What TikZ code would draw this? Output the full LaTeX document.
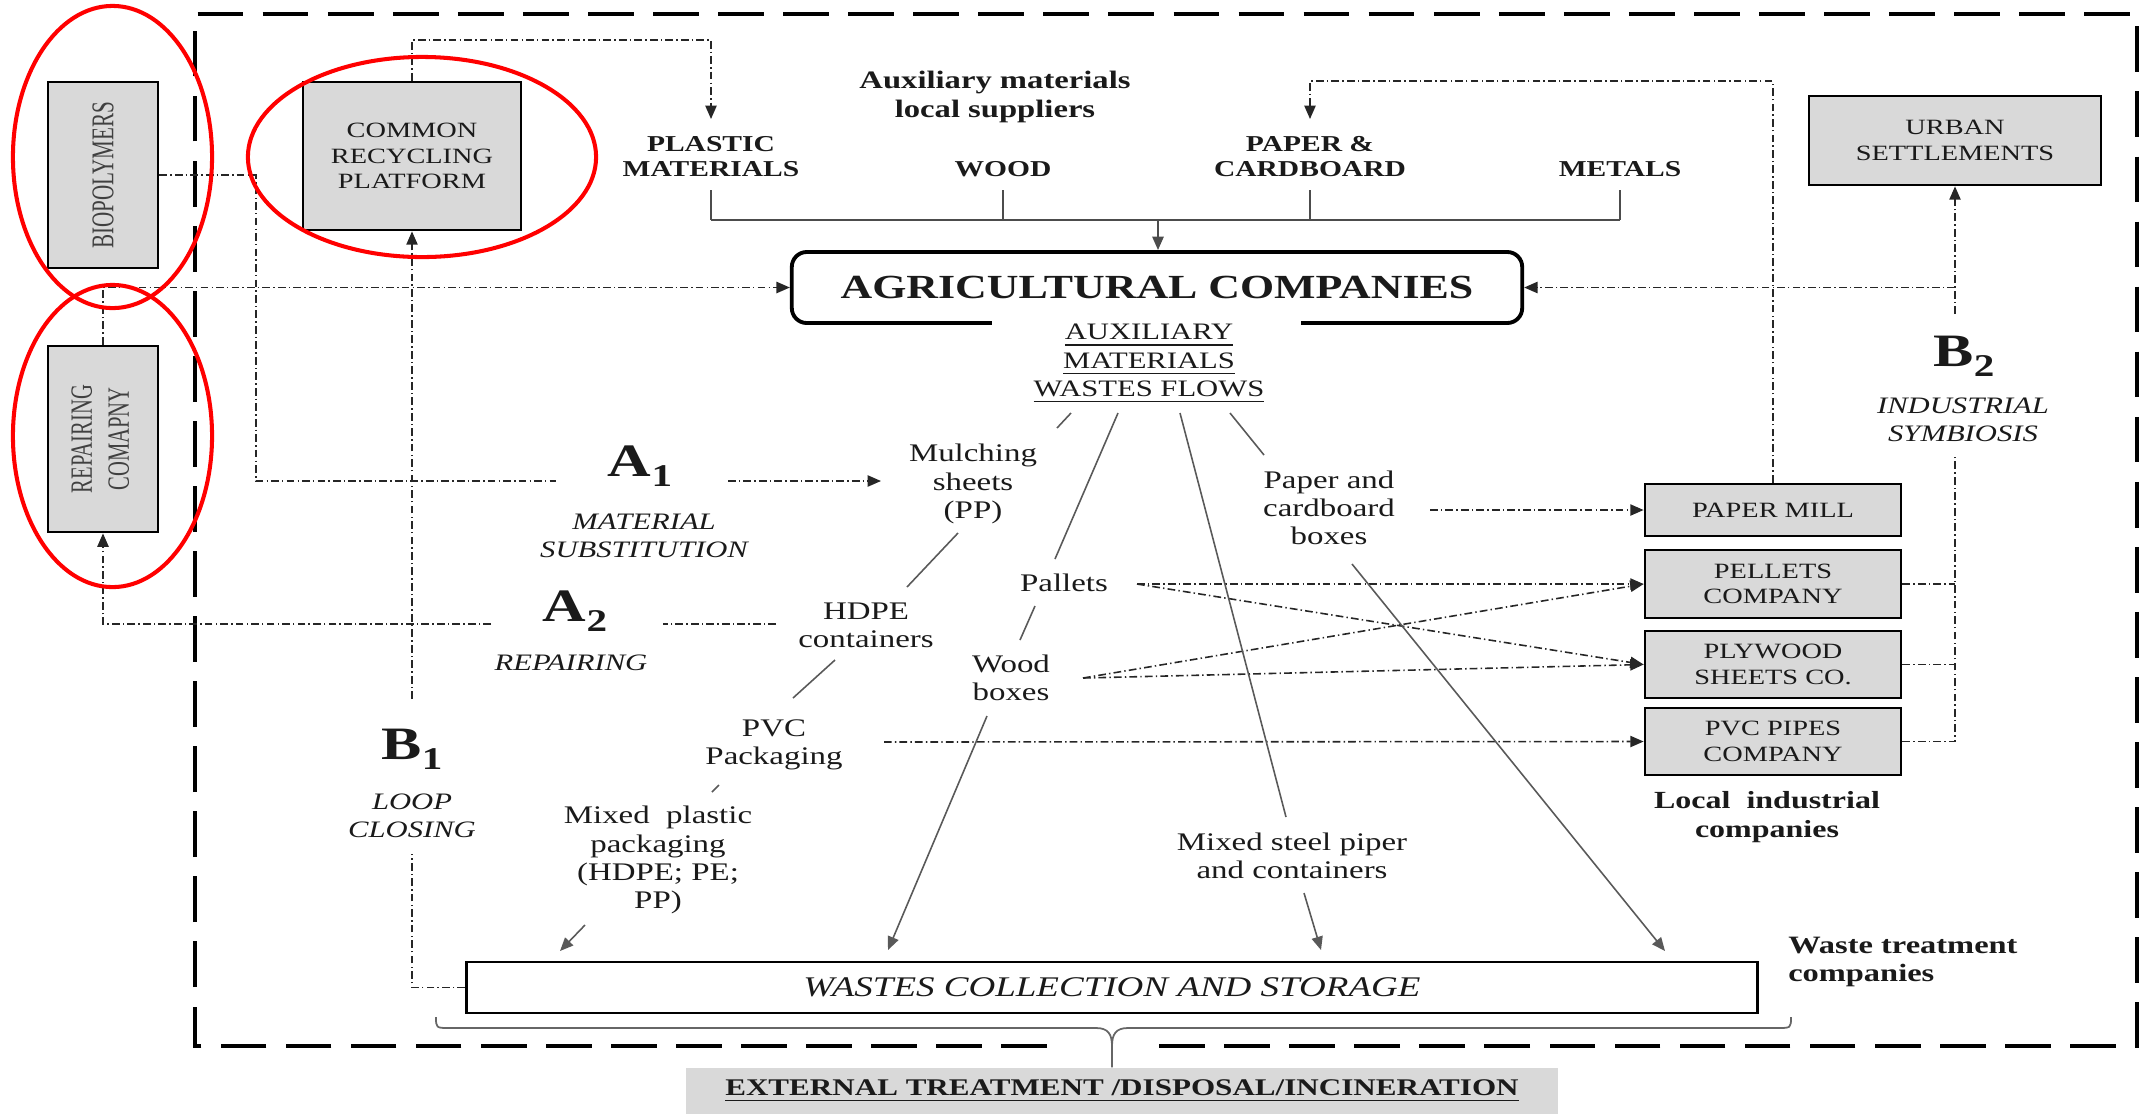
\documentclass[tikz,border=0pt]{standalone}
\usepackage{fontspec}
\setmainfont{Liberation Serif}[FakeStretch=1.3]
\newfontfamily\rotfont{Liberation Serif}
\usetikzlibrary{arrows.meta}
\definecolor{boxgray}{HTML}{D9D9D9}
\definecolor{txt}{HTML}{1A1A1A}
\newcommand{\fsz}[2]{\fontsize{#1}{#2}\selectfont}
\newcommand{\sbs}[1]{\raisebox{-0.45ex}{\fsz{9pt}{9pt}#1}}
\newcommand{\undl}[1]{\underline{#1}}
\tikzset{
  flow/.style={draw=black!85, line width=0.45pt, dash pattern=on 2.2pt off 0.9pt on 0.4pt off 0.9pt},
  arr/.style={-{Triangle[length=3.8pt,width=3.2pt]}},
  sol/.style={draw=black!65, line width=0.45pt},
  bus/.style={draw=black!70, line width=0.5pt},
  gbox/.style={draw=black, line width=0.75pt, fill=boxgray, inner sep=0pt, align=center, text=txt},
  lab/.style={align=center, inner sep=3pt, text=txt},
  regtxt/.style={lab, font=\fsz{7.2pt}{8pt}},
  capsb/.style={lab, font=\bfseries\fsz{6.46pt}{7.1pt}},
  itl/.style={lab, font=\itshape\fsz{6.7pt}{8pt}},
  big/.style={lab, font=\bfseries\fsz{13.2pt}{14pt}},
  boxcaps/.style={font=\fsz{6.2pt}{7.25pt}},
  oval/.style={draw=red, line width=1.15pt}
}
\begin{document}
\begin{tikzpicture}[x=0.01cm,y=-0.01cm]
\useasboundingbox (0,0) rectangle (2154,1114);

% outer dashed frame (gap where the brace passes)
\draw[line width=1.1pt, dash pattern=on 13pt off 5.5pt] (1047,1046) -| (195,14) -| (2137,1046) -- (1159,1046);

% ---------- boxes ----------
\node[gbox, minimum width=1.1cm, minimum height=1.86cm] (bio) at (103,175)
  {\rotatebox{90}{\scalebox{1}[1.5]{\rotfont\fsz{6pt}{7pt}\color{black!75}BIOPOLYMERS}}};
\node[gbox, minimum width=1.1cm, minimum height=1.86cm] (rep) at (103,439)
  {\rotatebox{90}{\scalebox{1}[1.5]{\rotfont\fsz{5.86pt}{7pt}\color{black!75}\begin{tabular}{@{}c@{}}REPAIRING\\COMAPNY\end{tabular}}}};
\node[gbox, boxcaps, minimum width=2.18cm, minimum height=1.48cm] (crp) at (412,156) {COMMON\\RECYCLING\\PLATFORM};
\node[gbox, boxcaps, minimum width=2.92cm, minimum height=0.89cm] (urban) at (1955,140.5) {URBAN\\SETTLEMENTS};

\node[gbox, boxcaps, minimum width=2.56cm, minimum height=0.52cm] (pm) at (1773,510) {PAPER MILL};
\node[gbox, boxcaps, minimum width=2.56cm, minimum height=0.68cm] (pel) at (1773,584) {PELLETS\\COMPANY};
\node[gbox, boxcaps, minimum width=2.56cm, minimum height=0.67cm] (ply) at (1773,664.5) {PLYWOOD\\SHEETS CO.};
\node[gbox, boxcaps, minimum width=2.56cm, minimum height=0.67cm] (pvcp) at (1773,741.5) {PVC PIPES\\COMPANY};

\node[draw=black, line width=1.1pt, rounded corners=1.5mm, minimum width=7.3cm, minimum height=0.71cm,
      font=\bfseries\fsz{9.6pt}{10pt}, text=txt] (agri) at (1157,287.5) {AGRICULTURAL COMPANIES};
\fill[white] (992,318) rectangle (1301,330);

\node[draw=black, line width=0.8pt, minimum width=12.9cm, minimum height=0.51cm, inner sep=0pt,
      font=\itshape\fsz{8.1pt}{9pt}, text=txt] (waste) at (1112,987.5) {WASTES COLLECTION AND STORAGE};
\node[fill=boxgray, minimum width=8.72cm, minimum height=0.46cm, inner sep=0pt,
      font=\bfseries\fsz{6.8pt}{8pt}, text=txt] (ext) at (1122,1091) {\undl{EXTERNAL TREATMENT /DISPOSAL/INCINERATION}};

% ---------- labels ----------
\node[lab, font=\bfseries\fsz{7.14pt}{8pt}] (sup) at (995,97) {Auxiliary materials\\local suppliers};
\node[capsb] (plastic) at (711,157) {PLASTIC\\MATERIALS};
\node[capsb] (wood) at (1003,169) {WOOD};
\node[capsb] (paper) at (1310,157) {PAPER \&\\CARDBOARD};
\node[capsb] (metals) at (1620,169) {METALS};

\node[lab, font=\fsz{6.7pt}{8pt}] (auxw) at (1149,364) {\undl{AUXILIARY}\\\undl{MATERIALS}\\\undl{WASTES FLOWS}};

\node[regtxt] (mulch) at (973,484) {Mulching\\sheets\\(PP)};
\node[regtxt] (paperb) at (1329,508) {Paper and\\cardboard\\boxes};
\node[regtxt] (pallets) at (1064,583) {Pallets};
\node[regtxt] (hdpe) at (866,625) {HDPE\\containers};
\node[regtxt] (woodb) at (1011,678) {Wood\\boxes};
\node[regtxt] (pvc) at (774,745) {PVC\\Packaging};
\node[regtxt] (mixp) at (658,860) {Mixed\ \ plastic\\packaging\\(HDPE; PE;\\PP)};
\node[regtxt] (mixs) at (1292,856) {Mixed steel piper\\and containers};

\node[lab, font=\bfseries\fsz{7pt}{8.2pt}] (local) at (1767,817) {Local\ \ industrial\\companies};
\node[lab, anchor=west, align=left, font=\bfseries\fsz{7.1pt}{8.2pt}] (wtc) at (1777,962) {Waste treatment\\companies};

\node[big] (A1) at (640,466) {A\sbs{1}};
\node[itl] (matsub) at (644,536) {MATERIAL\\SUBSTITUTION};
\node[big] (A2) at (575,611) {A\sbs{2}};
\node[itl] (repairing) at (571,663) {REPAIRING};
\node[big] (B1) at (412,749) {B\sbs{1}};
\node[itl] (loop) at (412,816) {LOOP\\CLOSING};
\node[big] (B2) at (1964,356) {B\sbs{2}};
\node[itl] (indsym) at (1963,420) {INDUSTRIAL\\SYMBIOSIS};

% ---------- supplier bus ----------
\coordinate (busM) at (1158,220);
\coordinate (tickY) at (0,190);
\coordinate (tipY) at (0,119);
\draw[bus] (plastic |- tickY) -- (plastic |- busM);
\draw[bus] (wood |- tickY) -- (wood |- busM);
\draw[bus] (paper |- tickY) -- (paper |- busM);
\draw[bus] (metals |- tickY) -- (metals |- busM);
\draw[bus] (plastic |- busM) -- (metals |- busM);
\draw[bus, arr] (busM) -- (agri.north -| busM);

% ---------- dash-dot flows ----------
\coordinate (a1l) at (556,481);
\coordinate (a1r) at (728,481);
\coordinate (mulchin) at (881,481);
\draw[flow] (bio.east) -| (256,481) -- (a1l);
\draw[flow, arr] (a1r) -- (mulchin);

\draw[flow, arr] (rep.north) |- (agri.west);

\draw[flow, arr] (crp.north) -- (412,40) -| (plastic |- tipY);

\coordinate (b1a) at (412,854);
\coordinate (b1b) at (412,699);
\draw[flow] (waste.west) -| (b1a);
\draw[flow, arr] (b1b) -- (crp.south);

\coordinate (a2r1) at (776,624);
\coordinate (a2r2) at (663,624);
\coordinate (a2l) at (491,624);
\draw[flow] (a2r1) -- (a2r2);
\draw[flow, arr] (a2l) -| (rep.south);

\coordinate (pmtop) at (1773,81);
\draw[flow, arr] (pm.north) -- (pmtop) -| (paper |- tipY);

\coordinate (b2up) at (1955,314);
\coordinate (b2low) at (1955,457);
\draw[flow, arr] (b2up) -- (urban.south);
\draw[flow, arr] (agri.east -| urban.south) -- (agri.east);
\draw[flow] (pvcp.east) -| (b2low);
\draw[flow] (pel.east) -- (pel.east -| b2low);
\draw[flow] (ply.east) -- (ply.east -| b2low);

\coordinate (pbr) at (1430,510);
\coordinate (palr) at (1137,584);
\coordinate (woodr) at (1083,678);
\coordinate (pvcr) at (884,742);
\draw[flow, arr] (pbr) -- (pm.west);
\draw[flow, arr] (palr) -- (pel.west);
\draw[flow, arr] (palr) -- (ply.west);
\draw[flow, arr] (woodr) -- (pel.west);
\draw[flow, arr] (woodr) -- (ply.west);
\draw[flow, arr] (pvcr) -- (pvcp.west);

% ---------- solid waste flow lines ----------
\coordinate (s1a) at (1071,413); \coordinate (s1b) at (1057,428);
\coordinate (s2a) at (958,533);  \coordinate (s2b) at (907,587);
\coordinate (s3a) at (835,660);  \coordinate (s3b) at (793,698);
\coordinate (s4a) at (719,785);  \coordinate (s4b) at (712,792);
\coordinate (s5a) at (585,925);  \coordinate (s5b) at (560,951);
\coordinate (p1a) at (1118,413); \coordinate (p1b) at (1055,559);
\coordinate (p2a) at (1035,606); \coordinate (p2b) at (1020,640);
\coordinate (p3a) at (987,716);  \coordinate (p3b) at (888,950);
\coordinate (m1a) at (1180,413); \coordinate (m1b) at (1286,817);
\coordinate (m2a) at (1304,893); \coordinate (m2b) at (1321,950);
\coordinate (c1a) at (1230,413); \coordinate (c1b) at (1264,455);
\coordinate (c2a) at (1352,564); \coordinate (c2b) at (1665,951);
\draw[sol] (s1a) -- (s1b);
\draw[sol] (s2a) -- (s2b);
\draw[sol] (s3a) -- (s3b);
\draw[sol] (s4a) -- (s4b);
\draw[sol, arr] (s5a) -- (s5b);
\draw[sol] (p1a) -- (p1b);
\draw[sol] (p2a) -- (p2b);
\draw[sol, arr] (p3a) -- (p3b);
\draw[sol] (m1a) -- (m1b);
\draw[sol, arr] (m2a) -- (m2b);
\draw[sol] (c1a) -- (c1b);
\draw[sol, arr] (c2a) -- (c2b);

% ---------- brace ----------
\draw[draw=black!60, line width=0.5pt] (436,1017) .. controls (436,1028) .. (450,1028) -- (1096,1028)
  .. controls (1108,1028) and (1112,1034) .. (1112,1046) -- (ext.north -| 1112,0);
\draw[draw=black!60, line width=0.5pt] (1791,1017) .. controls (1791,1028) .. (1777,1028) -- (1128,1028)
  .. controls (1116,1028) and (1112,1034) .. (1112,1046);

% ---------- red ovals ----------
\draw[oval] (112.5,157) ellipse [x radius=0.995cm, y radius=1.51cm];
\draw[oval] (112.5,436) ellipse [x radius=0.995cm, y radius=1.51cm];
\draw[oval] (422,157) ellipse [x radius=1.74cm, y radius=1.0cm];
\end{tikzpicture}
\end{document}
